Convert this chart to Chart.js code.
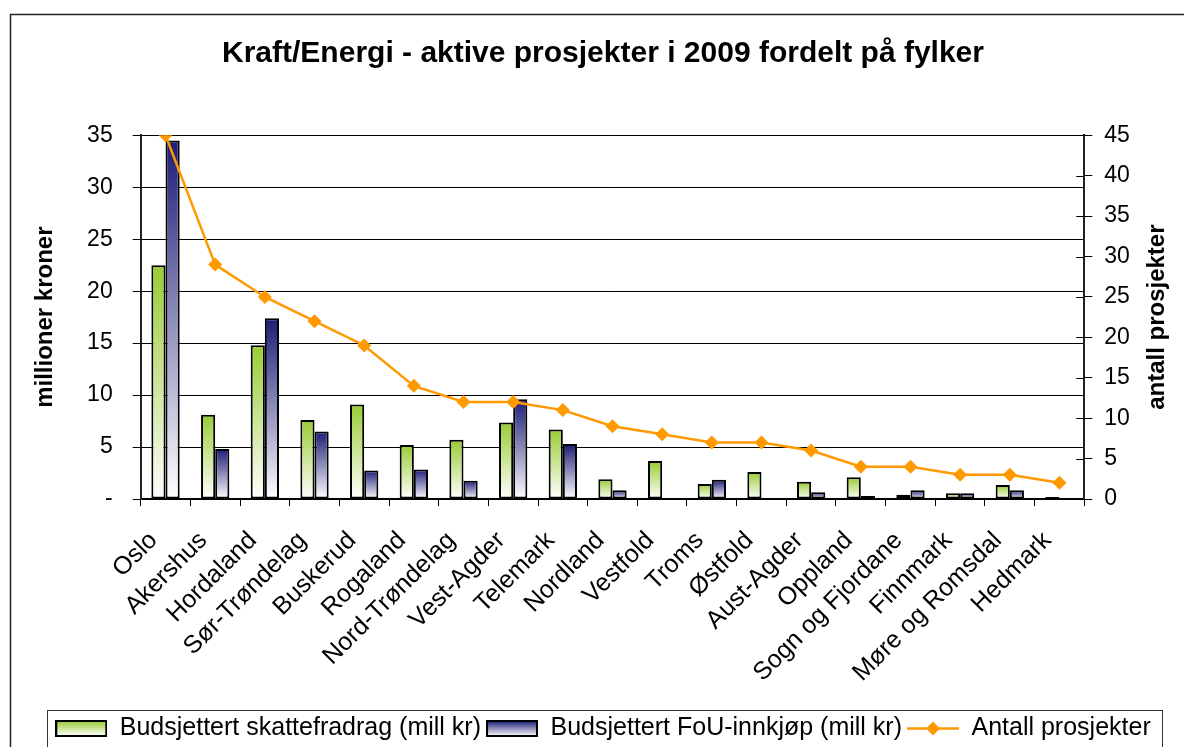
<!DOCTYPE html>
<html>
<head>
<meta charset="utf-8">
<script src="https://cdn.jsdelivr.net/npm/chart.js@4.4.1/dist/chart.umd.min.js"></script>
<style>
  html, body { margin: 0; padding: 0; background: #fff; }
  canvas { display: block; }
</style>
</head>
<body>
<canvas id="c" width="1184" height="747"></canvas>
<script>
// ---- data ----
const categories = ['Oslo','Akershus','Hordaland','Sør-Trøndelag','Buskerud','Rogaland','Nord-Trøndelag','Vest-Agder','Telemark','Nordland','Vestfold','Troms','Østfold','Aust-Agder','Oppland','Sogn og Fjordane','Finnmark','Møre og Romsdal','Hedmark'];
const skattefradrag = [22.5, 8.1, 14.8, 7.6, 9.1, 5.2, 5.7, 7.35, 6.7, 1.9, 3.65, 1.45, 2.6, 1.65, 2.1, 0.4, 0.55, 1.35, 0.2];
const fouInnkjop = [34.5, 4.8, 17.4, 6.5, 2.75, 2.85, 1.75, 9.6, 5.3, 0.85, 0, 1.85, 0.1, 0.65, 0.3, 0.85, 0.55, 0.85, 0];
const antallProsjekter = [45, 29, 25, 22, 19, 14, 12, 12, 11, 9, 8, 7, 7, 6, 4, 4, 3, 3, 2];
const seriesNames = ['Budsjettert skattefradrag (mill kr)', 'Budsjettert FoU-innkjøp (mill kr)', 'Antall prosjekter'];
const chartTitle = 'Kraft/Energi - aktive prosjekter i 2009 fordelt på fylker';
const leftAxisTitle = 'millioner kroner';
const rightAxisTitle = 'antall prosjekter';

const GREEN = '#99cc33';
const NAVY = '#1c1c78';
const ORANGE = '#ff9900';
const FONT = "'Liberation Sans', Arial, sans-serif";

function gradientFill(topColor) {
  return (ctx) => {
    const chart = ctx.chart;
    if (!chart.chartArea || ctx.type !== 'data' || !ctx.parsed) return topColor;
    const ys = chart.scales.y;
    const top = ys.getPixelForValue(ctx.parsed.y);
    const base = ys.getPixelForValue(0);
    if (!isFinite(top) || base - top < 1) return topColor;
    const g = chart.ctx.createLinearGradient(0, top, 0, base);
    g.addColorStop(0, topColor);
    g.addColorStop(1, '#ffffff');
    return g;
  };
}

function swatch(topColor) {
  const cv = document.createElement('canvas');
  cv.width = 52; cv.height = 17;
  const c = cv.getContext('2d');
  const g = c.createLinearGradient(0, 1, 0, 16);
  g.addColorStop(0, topColor); g.addColorStop(1, '#ffffff');
  c.fillStyle = g; c.fillRect(1, 1, 50, 15);
  c.strokeStyle = '#000'; c.lineWidth = 2; c.strokeRect(1, 1, 50, 15);
  return cv;
}
function lineSwatch() {
  const cv = document.createElement('canvas');
  cv.width = 52; cv.height = 17;
  const c = cv.getContext('2d');
  c.strokeStyle = ORANGE; c.lineWidth = 2.5;
  c.beginPath(); c.moveTo(0, 8.5); c.lineTo(52, 8.5); c.stroke();
  c.fillStyle = ORANGE;
  c.beginPath(); c.moveTo(26 - 7, 8.5); c.lineTo(26, 1.5); c.lineTo(26 + 7, 8.5); c.lineTo(26, 15.5); c.closePath(); c.fill();
  return cv;
}
const legendImgs = [swatch(GREEN), swatch(NAVY), lineSwatch()];

const decor = {
  id: 'decor',
  beforeDraw(chart) {
    const c = chart.ctx;
    c.save(); c.fillStyle = '#fff'; c.fillRect(0, 0, chart.width, chart.height); c.restore();
  },
  afterDraw(chart) {
    const c = chart.ctx;
    c.save();
    // outer chart border (continues beyond the visible area)
    c.strokeStyle = '#222'; c.lineWidth = 1.5;
    c.beginPath(); c.moveTo(10.5, chart.height + 5); c.lineTo(10.5, 14.5); c.lineTo(chart.width + 5, 14.5); c.stroke();
    // legend frame
    const hb = chart.legend.legendHitBoxes;
    if (hb && hb.length) {
      let l = Infinity, r = -Infinity, cy = 0;
      hb.forEach(h => { l = Math.min(l, h.left); r = Math.max(r, h.left + h.width); cy = h.top + h.height / 2; });
      c.strokeStyle = '#333'; c.lineWidth = 1;
      c.strokeRect(Math.round(l - 8) + 0.5, Math.round(cy - 19) + 0.5, Math.round(r - l + 20), 60);
    }
    // inward tick marks on right axis
    const y1 = chart.scales.y1;
    c.strokeStyle = '#000'; c.lineWidth = 1;
    y1.ticks.forEach(tk => {
      const py = Math.round(y1.getPixelForValue(tk.value)) + 0.5;
      c.beginPath(); c.moveTo(y1.left - 8, py); c.lineTo(y1.left, py); c.stroke();
    });
    // right axis title (reads bottom to top)
    c.fillStyle = '#000';
    c.font = "bold 24px " + FONT;
    c.textAlign = 'center'; c.textBaseline = 'middle';
    c.translate(y1.right - 27, (chart.chartArea.top + chart.chartArea.bottom) / 2);
    c.rotate(-Math.PI / 2);
    c.fillText(rightAxisTitle, 0, 0);
    c.restore();
  }
};

new Chart(document.getElementById('c'), {
  data: {
    labels: categories,
    datasets: [
      {
        type: 'line', label: seriesNames[2], data: antallProsjekter, yAxisID: 'y1', order: 0,
        borderColor: ORANGE, backgroundColor: ORANGE, borderWidth: 2.5,
        pointStyle: 'rectRot', pointRadius: 7, pointBorderWidth: 0, pointBackgroundColor: ORANGE,
        tension: 0, fill: false
      },
      {
        type: 'bar', label: seriesNames[0], data: skattefradrag, yAxisID: 'y', order: 1,
        backgroundColor: gradientFill(GREEN), borderColor: '#000', borderWidth: 2, borderSkipped: false,
        categoryPercentage: 0.57, barPercentage: 1
      },
      {
        type: 'bar', label: seriesNames[1], data: fouInnkjop, yAxisID: 'y', order: 2,
        backgroundColor: gradientFill(NAVY), borderColor: '#000', borderWidth: 2, borderSkipped: false,
        categoryPercentage: 0.57, barPercentage: 1
      }
    ]
  },
  options: {
    responsive: false,
    animation: false,
    devicePixelRatio: 1,
    layout: { padding: { left: 22, right: 0, top: 0, bottom: -4 } },
    plugins: {
      tooltip: { enabled: false },
      title: {
        display: true, text: chartTitle, color: '#000',
        font: { family: FONT, size: 30, weight: 'bold' },
        padding: { top: 36, bottom: 63.3 }
      },
      legend: {
        position: 'bottom',
        labels: {
          color: '#000',
          font: { family: FONT, size: 25 },
          usePointStyle: true, pointStyleWidth: 52, padding: 5,
          generateLabels: (chart) => [1, 2, 0].map((di, k) => ({
            text: chart.data.datasets[di].label,
            pointStyle: legendImgs[k],
            fillStyle: 'rgba(0,0,0,0)', strokeStyle: 'rgba(0,0,0,0)', lineWidth: 0,
            datasetIndex: di, hidden: false, fontColor: '#000'
          }))
        }
      }
    },
    scales: {
      x: {
        type: 'category',
        afterFit: (s) => { s.height = 212; },
        grid: { display: true, drawOnChartArea: false, drawTicks: true, tickLength: 7, color: '#000', offset: true },
        border: { display: true, color: '#000', width: 1.5 },
        ticks: {
          color: '#000', font: { family: FONT, size: 25 },
          minRotation: 45, maxRotation: 45, autoSkip: false, padding: 20, labelOffset: -12
        }
      },
      y: {
        position: 'left', min: 0, max: 35,
        afterFit: (s) => { s.width = 118.7; },
        grid: { color: '#000', lineWidth: 1, drawTicks: true, tickLength: 8 },
        border: { display: true, color: '#222', width: 2 },
        ticks: {
          stepSize: 5, color: '#000', font: { family: FONT, size: 23 }, padding: 20,
          callback: (v) => v === 0 ? '-' : v
        },
        title: { display: true, text: leftAxisTitle, color: '#000', font: { family: FONT, size: 24, weight: 'bold' }, padding: { top: 8.6, bottom: 0 } }
      },
      y1: {
        position: 'right', min: 0, max: 45,
        afterFit: (s) => { s.width = 99.7; },
        grid: { drawOnChartArea: false, color: '#000', drawTicks: true, tickLength: 8 },
        border: { display: true, color: '#222', width: 2 },
        ticks: { stepSize: 5, color: '#000', font: { family: FONT, size: 23 }, padding: 12 }
      }
    }
  },
  plugins: [decor]
});
</script>
</body>
</html>
